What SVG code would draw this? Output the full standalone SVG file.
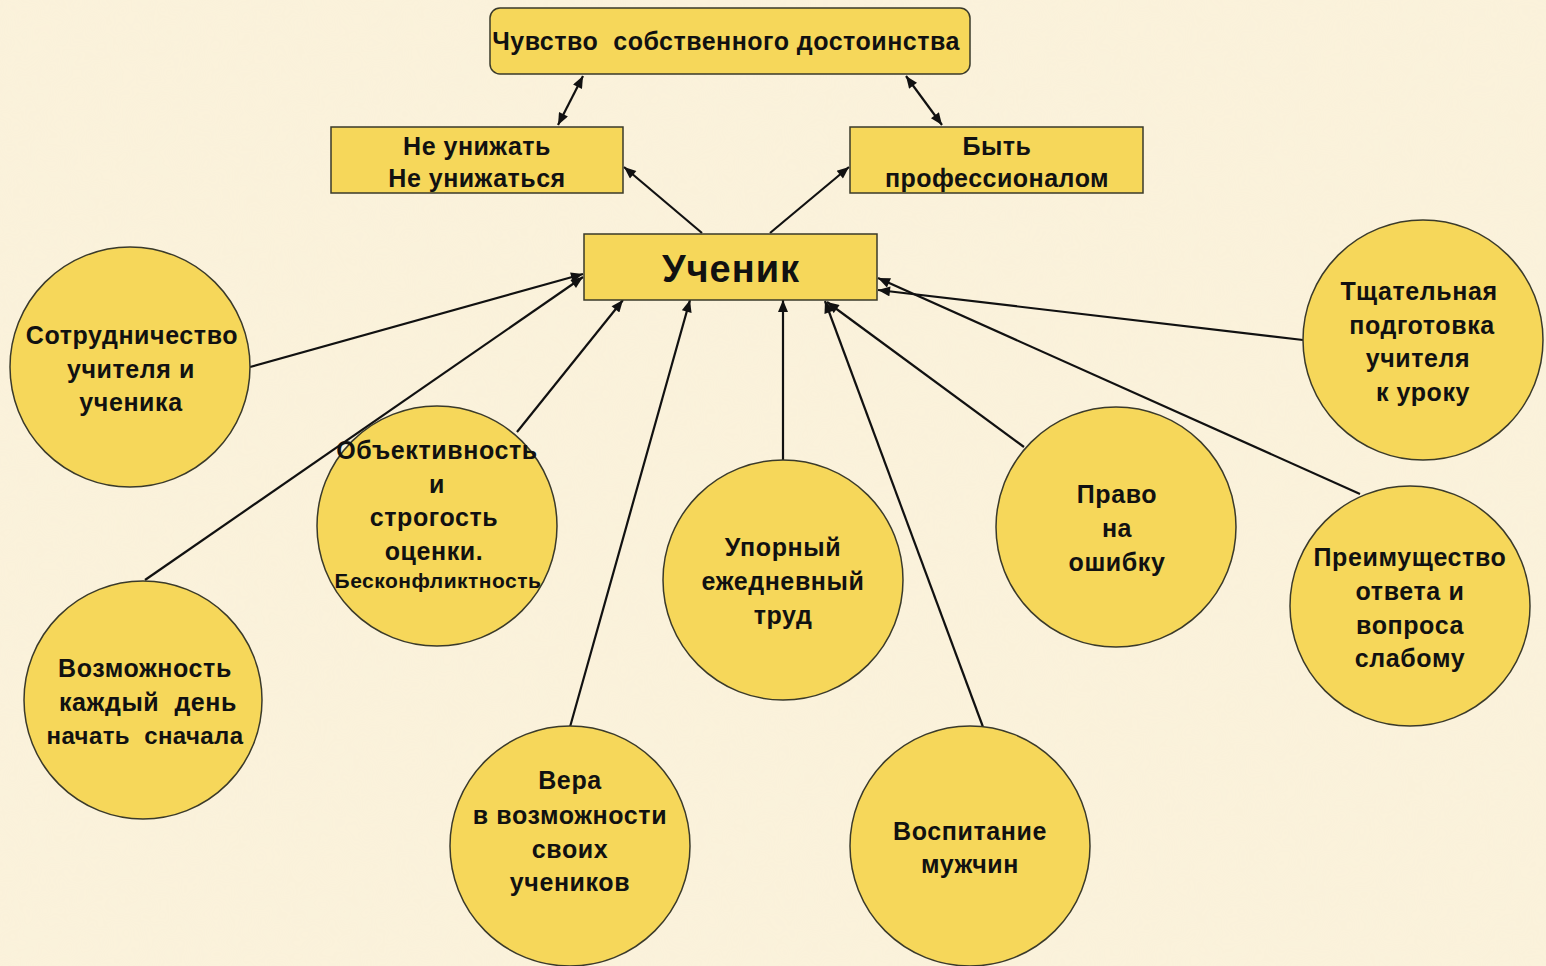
<svg xmlns="http://www.w3.org/2000/svg" width="1546" height="966" viewBox="0 0 1546 966">
<style>
.box{fill:#F6D75A;stroke:#3a3a2a;stroke-width:1.5}
.circ{fill:#F6D75A;stroke:#3a3a2a;stroke-width:1.5}
.t{font-family:"Liberation Sans",Arial,sans-serif;font-weight:bold;fill:#111;text-anchor:middle;white-space:pre}
.f22{font-size:25px;letter-spacing:0.5px}
.f24{font-size:25px;letter-spacing:0.5px}
.c{font-size:25px;letter-spacing:0.6px}
.con line{stroke:#111;stroke-width:2.2}
</style>
<defs>
<marker id="ah" viewBox="0 0 12 10" refX="12" refY="5" markerWidth="13" markerHeight="10" markerUnits="userSpaceOnUse" orient="auto-start-reverse">
<path d="M0,0 L12,5 L0,10 z" fill="#111"/>
</marker>
<filter id="noise" x="0" y="0" width="100%" height="100%">
<feTurbulence type="fractalNoise" baseFrequency="0.02" numOctaves="3" seed="4"/>
<feColorMatrix type="matrix" values="0 0 0 0 0.9  0 0 0 0 0.85  0 0 0 0 0.7  0 0 0 0.25 0"/>
</filter>
</defs>
<rect width="1546" height="966" fill="#FBF2DB"/>
<rect width="1546" height="966" filter="url(#noise)" opacity="0.5"/>

<g id="connectors" class="con">
<line x1="583" y1="76" x2="558" y2="125" marker-start="url(#ah)" marker-end="url(#ah)"/>
<line x1="906" y1="76" x2="942" y2="125" marker-start="url(#ah)" marker-end="url(#ah)"/>
<line x1="702" y1="233" x2="624" y2="167" marker-end="url(#ah)"/>
<line x1="770" y1="233" x2="849" y2="167" marker-end="url(#ah)"/>
<line x1="250" y1="367" x2="583" y2="274" marker-end="url(#ah)"/>
<line x1="145" y1="580" x2="583" y2="277" marker-end="url(#ah)"/>
<line x1="517" y1="432" x2="623" y2="300" marker-end="url(#ah)"/>
<line x1="570" y1="727" x2="690" y2="300" marker-end="url(#ah)"/>
<line x1="783" y1="460" x2="783" y2="300" marker-end="url(#ah)"/>
<line x1="983" y1="727" x2="825" y2="301" marker-end="url(#ah)"/>
<line x1="1024" y1="447" x2="827" y2="302" marker-end="url(#ah)"/>
<line x1="1303" y1="340" x2="878" y2="290" marker-end="url(#ah)"/>
<line x1="1360" y1="494" x2="878" y2="278" marker-end="url(#ah)"/>
</g>

<g id="n-dostoinstvo">
<rect class="box" x="490" y="8" width="480" height="66" rx="10"/>
<text class="t f24" x="726" y="50">Чувство  собственного достоинства</text>
</g>
<g id="n-neunizhat">
<rect class="box" x="331" y="127" width="292" height="66"/>
<text class="t f22" x="477" y="155">Не унижать</text>
<text class="t f22" x="477" y="187">Не унижаться</text>
</g>
<g id="n-professional">
<rect class="box" x="850" y="127" width="293" height="66"/>
<text class="t f22" x="997" y="155">Быть</text>
<text class="t f22" x="997" y="187">профессионалом</text>
</g>
<g id="n-uchenik">
<rect class="box" x="584" y="234" width="293" height="66"/>
<text class="t" x="731" y="282" font-size="38" letter-spacing="1">Ученик</text>
</g>

<g id="n-sotrudnichestvo">
<circle class="circ" cx="130" cy="367" r="120"/>
<text class="t c" x="132" y="344">Сотрудничество</text>
<text class="t c" x="131" y="378">учителя и</text>
<text class="t c" x="131" y="411">ученика</text>
</g>
<g id="n-obektivnost">
<circle class="circ" cx="437" cy="526" r="120"/>
<text class="t c" x="437" y="459">Объективность</text>
<text class="t c" x="437" y="493">и</text>
<text class="t c" x="434" y="526">строгость</text>
<text class="t c" x="434" y="560">оценки.</text>
<text class="t" x="438" y="588" font-size="21" letter-spacing="0.5">Бесконфликтность</text>
</g>
<g id="n-vozmozhnost">
<circle class="circ" cx="143" cy="700" r="119"/>
<text class="t c" x="145" y="677">Возможность</text>
<text class="t c" x="148" y="711">каждый  день</text>
<text class="t" x="145" y="744" font-size="24" letter-spacing="0.4">начать  сначала</text>
</g>
<g id="n-vera">
<circle class="circ" cx="570" cy="846" r="120"/>
<text class="t c" x="570" y="789">Вера</text>
<text class="t c" x="570" y="824">в возможности</text>
<text class="t c" x="570" y="858">своих</text>
<text class="t c" x="570" y="891">учеников</text>
</g>
<g id="n-upornyy">
<circle class="circ" cx="783" cy="580" r="120"/>
<text class="t c" x="783" y="556">Упорный</text>
<text class="t c" x="783" y="590">ежедневный</text>
<text class="t c" x="783" y="624">труд</text>
</g>
<g id="n-vospitanie">
<circle class="circ" cx="970" cy="846" r="120"/>
<text class="t c" x="970" y="840">Воспитание</text>
<text class="t c" x="970" y="873">мужчин</text>
</g>
<g id="n-pravo">
<circle class="circ" cx="1116" cy="527" r="120"/>
<text class="t c" x="1117" y="503">Право</text>
<text class="t c" x="1117" y="537">на</text>
<text class="t c" x="1117" y="571">ошибку</text>
</g>
<g id="n-tshchatelnaya">
<circle class="circ" cx="1423" cy="340" r="120"/>
<text class="t c" x="1419" y="300">Тщательная</text>
<text class="t c" x="1422" y="334">подготовка</text>
<text class="t c" x="1418" y="367">учителя</text>
<text class="t c" x="1423" y="401">к уроку</text>
</g>
<g id="n-preimushchestvo">
<circle class="circ" cx="1410" cy="606" r="120"/>
<text class="t c" x="1410" y="566">Преимущество</text>
<text class="t c" x="1410" y="600">ответа и</text>
<text class="t c" x="1410" y="634">вопроса</text>
<text class="t c" x="1410" y="667">слабому</text>
</g>
</svg>
